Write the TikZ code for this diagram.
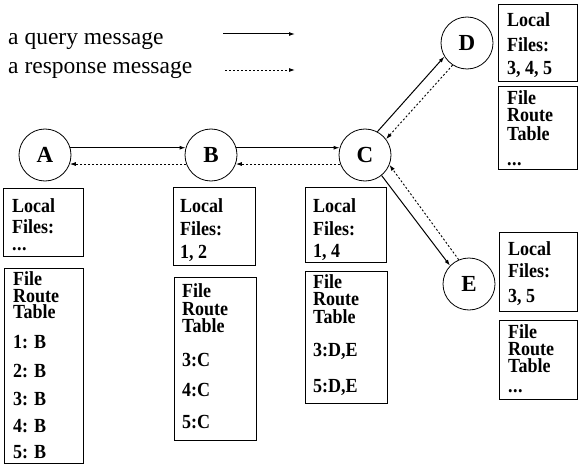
\documentclass[tikz,border=0pt]{standalone}
\usepackage{fontspec}
\setmainfont{Liberation Serif}
\newfontfamily\boxfont{Liberation Serif}[FakeStretch=0.9]
\usetikzlibrary{arrows.meta}
\newcommand\tdots{.\kern0.5pt.\kern0.5pt.}
\tikzset{
  peer/.style={draw, circle, line width=0.8pt, minimum size=52pt, inner sep=0pt, font=\fontsize{23}{23}\selectfont\bfseries},
  box/.style={draw, line width=1pt, inner sep=0pt, anchor=north west},
  lbl/.style={anchor=base west, inner sep=0pt, font=\boxfont\fontsize{20}{20}\selectfont\bfseries},
  legend/.style={anchor=base west, inner sep=0pt, font=\fontsize{23.5}{23.5}\selectfont},
  query/.style={line width=1pt, -{Latex[length=6pt,width=4pt]}},
  resp/.style={line width=0.9pt, dash pattern=on 2pt off 2pt, -{Latex[length=6pt,width=4pt]}}
}
\begin{document}
\begin{tikzpicture}[x=1pt,y=-1pt]
\useasboundingbox (0,0) rectangle (578,468);
% legend
\node[legend] (lq) at (8,45) {a query message};
\node[legend] (lr) at (8,74) {a response message};
\coordinate (q1) at (223,34);
\coordinate (q2) at (295,34);
\coordinate (r1) at (225,70);
\coordinate (r2) at (295,70);
\draw[query] (q1) -- (q2);
\draw[resp] (r1) -- (r2);
% peers
\node[peer] (A) at (45,155) {A};
\node[peer] (B) at (211,155) {B};
\node[peer] (C) at (365,155) {C};
\node[peer] (D) at (467,43) {D};
\node[peer] (E) at (469,284) {E};
% messages
\draw[query] (A.16) -- (B.164);
\draw[resp] (B.-160) -- (A.-20);
\draw[query] (B.16) -- (C.164);
\draw[resp] (C.-160) -- (B.-20);
\draw[query] (C.62) -- (D.211);
\draw[resp] (D.237) -- (C.37);
\draw[query] (C.-51) -- (E.136);
\draw[resp] (E.113) -- (C.-22);
% boxes
\node[box, minimum width=80pt, minimum height=68pt] (Aloc) at (3,188) {};
\node[box, minimum width=79pt, minimum height=195pt] (Art) at (4,268) {};
\node[box, minimum width=82pt, minimum height=78pt] (Bloc) at (173,187) {};
\node[box, minimum width=82pt, minimum height=163pt] (Brt) at (174,277) {};
\node[box, minimum width=81pt, minimum height=75pt] (Cloc) at (305,187) {};
\node[box, minimum width=82pt, minimum height=132pt] (Crt) at (305,271) {};
\node[box, minimum width=79pt, minimum height=77pt] (Dloc) at (498,4) {};
\node[box, minimum width=79pt, minimum height=83pt] (Drt) at (498,86) {};
\node[box, minimum width=78pt, minimum height=79pt] (Eloc) at (499,232) {};
\node[box, minimum width=78pt, minimum height=79pt] (Ert) at (499,320) {};
% box texts
\foreach \t/\y [count=\i] in {Local/212, Files:/233, \tdots/250}
  \node[lbl] (Al\i) at (12,\y) {\t};
\foreach \t/\y [count=\i] in {File/285, Route/302, Table/318, {1: B}/348, {2: B}/377, {3: B}/405, {4: B}/432, {5: B}/458}
  \node[lbl] (Ar\i) at (13,\y) {\t};
\foreach \t/\y [count=\i] in {Local/212, Files:/235, {1, 2}/258}
  \node[lbl] (Bl\i) at (180,\y) {\t};
\foreach \t/\y [count=\i] in {File/297, Route/315, Table/332, 3:C/366, 4:C/396, 5:C/428}
  \node[lbl] (Br\i) at (182,\y) {\t};
\foreach \t/\y [count=\i] in {Local/212, Files:/235, {1, 4}/257}
  \node[lbl] (Cl\i) at (313,\y) {\t};
\foreach \t/\y [count=\i] in {File/288, Route/305, Table/323, {3:D,E}/356, {5:D,E}/392}
  \node[lbl] (Cr\i) at (313,\y) {\t};
\foreach \t/\y [count=\i] in {Local/27, Files:/52, {3, 4, 5}/75}
  \node[lbl] (Dl\i) at (507,\y) {\t};
\foreach \t/\y [count=\i] in {File/105, Route/122, Table/140, \tdots/165}
  \node[lbl] (Dr\i) at (507,\y) {\t};
\foreach \t/\y [count=\i] in {Local/255, Files:/277, {3, 5}/302}
  \node[lbl] (El\i) at (508,\y) {\t};
\foreach \t/\y [count=\i] in {File/338, Route/355, Table/372, \tdots/392}
  \node[lbl] (Er\i) at (508,\y) {\t};
\end{tikzpicture}
\end{document}
